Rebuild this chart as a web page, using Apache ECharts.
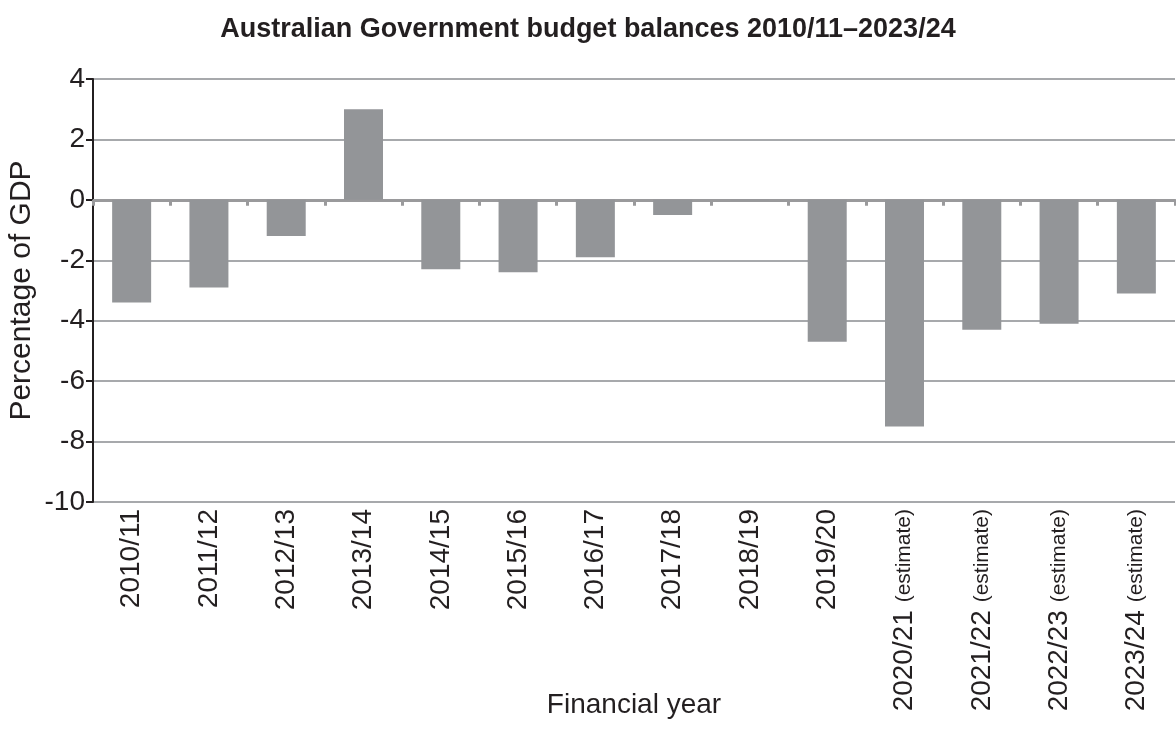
<!DOCTYPE html>
<html>
<head>
<meta charset="utf-8">
<script src="https://cdn.jsdelivr.net/npm/echarts@6/dist/echarts.min.js"></script>
<style>html,body{margin:0;padding:0;background:#fff;}#c{width:1176px;height:749px;}</style>
</head>
<body>
<div id="c"></div>
<script>
const categories = ['2010/11','2011/12','2012/13','2013/14','2014/15','2015/16','2016/17','2017/18','2018/19','2019/20','2020/21','2021/22','2022/23','2023/24'];
const isEstimate = [false,false,false,false,false,false,false,false,false,false,true,true,true,true];
const balances = [-3.4,-2.9,-1.2,3.0,-2.3,-2.4,-1.9,-0.5,-0.02,-4.7,-7.5,-4.3,-4.1,-3.1];
const yTicks = {min:-10, max:4, interval:2};

const FONT = '"Liberation Sans", Arial, sans-serif';
const chart = echarts.init(document.getElementById('c'));
chart.setOption({
  animation:false,
  backgroundColor:'#fff',
  title:{text:'Australian Government budget balances 2010/11\u20132023/24', left:'center', top:11,
    textStyle:{fontFamily:FONT, fontSize:27, fontWeight:'bold', color:'#231f20'}},
  grid:{left:93, right:1, top:79, bottom:247, containLabel:false, outerBoundsMode:'none'},
  xAxis:[{
    type:'category', data:categories, position:'bottom',
    axisLine:{show:false, onZero:false}, axisTick:{show:false},
    axisLabel:{rotate:90, margin:7, interval:0, color:'#231f20', fontFamily:FONT, fontSize:28,
      formatter:function(v, i){ return isEstimate[i] ? '{a|'+v+'} {b|(estimate)}' : '{a|'+v+'}'; },
      rich:{a:{fontFamily:FONT, fontSize:28, color:'#231f20'}, b:{fontFamily:FONT, fontSize:21, color:'#231f20'}}},
    name:'Financial year', nameLocation:'middle', nameGap:189, nameMoveOverlap:false,
    nameTextStyle:{fontFamily:FONT, fontSize:28, color:'#231f20'}
  },{
    type:'category', data:categories, position:'bottom',
    axisLine:{show:true, onZero:true, lineStyle:{color:'#9a9a9c', width:3}},
    axisTick:{show:true, inside:false, length:6, lineStyle:{color:'#9a9a9c', width:3}},
    axisLabel:{show:false}
  }],
  yAxis:{
    type:'value', min:yTicks.min, max:yTicks.max, interval:yTicks.interval,
    axisLine:{show:true, lineStyle:{color:'#231f20', width:2}},
    axisTick:{show:true, inside:false, length:7, lineStyle:{color:'#231f20', width:2}},
    axisLabel:{color:'#231f20', fontFamily:FONT, fontSize:28, margin:8},
    splitLine:{show:true, lineStyle:{color:'#a7a9ac', width:2}},
    name:'Percentage of GDP', nameLocation:'middle', nameGap:56, nameRotate:90, nameMoveOverlap:false,
    nameTextStyle:{fontFamily:FONT, fontSize:30, color:'#231f20'}
  },
  series:[{
    type:'bar', data:balances, xAxisIndex:0, barWidth:39,
    itemStyle:{color:'#939598'}, z:1
  }]
});
</script>
</body>
</html>
